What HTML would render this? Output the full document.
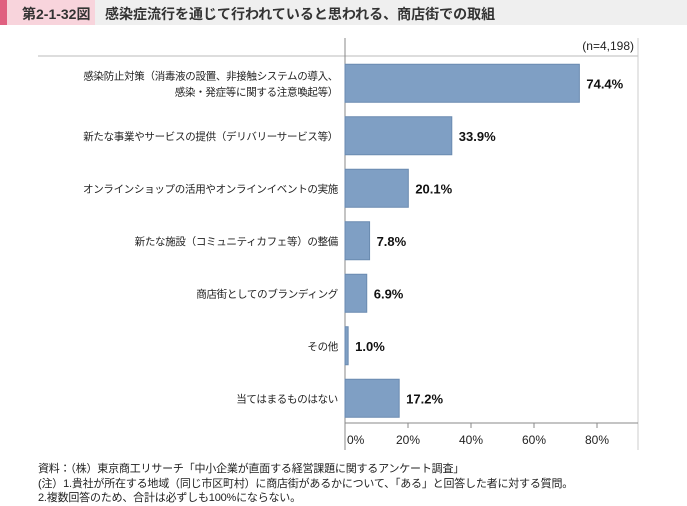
<!DOCTYPE html>
<html><head><meta charset="utf-8"><style>
body{margin:0;width:687px;height:506px;background:#fff;font-family:"Liberation Sans","Noto Sans CJK JP",sans-serif;overflow:hidden;position:relative}
.t{position:absolute;white-space:nowrap}
</style></head><body>
<div style="position:absolute;left:0;top:0;width:687px;height:25px;background:#efefef"></div>
<div style="position:absolute;left:0;top:0;width:7px;height:25px;background:#e06080"></div>
<div style="position:absolute;left:7px;top:0;width:88px;height:25px;background:#f8d4dc"></div>
<div class="t" style="left:22px;top:4px;font-size:14px;font-weight:bold;color:#333">第2-1-32図</div>
<div class="t" style="left:105px;top:4px;font-size:14px;font-weight:bold;color:#333">感染症流行を通じて行われていると思われる、商店街での取組</div>
<svg id="c" width="687" height="506" style="position:absolute;left:0;top:0"></svg>
<div class="t" style="left:38px;top:462px;font-size:11px;line-height:14.5px;color:#222;letter-spacing:-0.2px">資料：（株）東京商工リサーチ「中小企業が直面する経営課題に関するアンケート調査」<br>(注）1.貴社が所在する地域（同じ市区町村）に商店街があるかについて、「ある」と回答した者に対する質問。<br>2.複数回答のため、合計は必ずしも100%にならない。</div>
<script>
const categories=[["感染防止対策（消毒液の設置、非接触システムの導入、","感染・発症等に関する注意喚起等）"],["新たな事業やサービスの提供（デリバリーサービス等）"],["オンラインショップの活用やオンラインイベントの実施"],["新たな施設（コミュニティカフェ等）の整備"],["商店街としてのブランディング"],["その他"],["当てはまるものはない"]];
const values=[74.4,33.9,20.1,7.8,6.9,1.0,17.2];
const ticks=[0,20,40,60,80];
const svg=document.getElementById('c');const NS='http://www.w3.org/2000/svg';
function mk(t,a,txt){const e=document.createElementNS(NS,t);for(const k in a)e.setAttribute(k,a[k]);if(txt!=null)e.textContent=txt;svg.appendChild(e);return e;}
const x0=345,sc=3.15,top0=57,band=52.5,bh=38;
const xs=v=>x0+v*sc;
let e;
e=mk('line',{x1:38,y1:56,x2:638,y2:56,stroke:'#bbb'});
e=mk('line',{x1:345,y1:38,x2:345,y2:450,stroke:'#888'});
e=mk('line',{x1:638,y1:38,x2:638,y2:450,stroke:'#ccc'});
e=mk('line',{x1:345,y1:423,x2:638,y2:423,stroke:'#888'});
e=mk('text',{x:634,y:50,'font-size':12,'text-anchor':'end',fill:'#222'},'(n=4,198)');
ticks.forEach(t=>{
 e=mk('line',{x1:xs(t),y1:423,x2:xs(t),y2:428,stroke:'#888'});
 e=mk('text',{x:xs(t)+(t?0:2),y:444,'font-size':12,'text-anchor':t?'middle':'start',fill:'#222'},t+'%');
});
values.forEach((v,i)=>{
 const cy=top0+band*i+band/2;
 e=mk('rect',{x:x0,y:cy-bh/2,width:v*sc,height:bh,fill:'#7f9fc4',stroke:'#6a8ab0'});
 e=mk('text',{x:xs(v)+7,y:cy+5,'font-size':13,'font-weight':'bold',fill:'#111'},v.toFixed(1)+'%');
 const L=categories[i];
 L.forEach((s,j)=>{
  e=mk('text',{x:338,y:cy+4+(j-(L.length-1)/2)*16,'font-size':10.5,'letter-spacing':'-0.3','text-anchor':'end',fill:'#222'},s);
 });
});
</script>
</body></html>
